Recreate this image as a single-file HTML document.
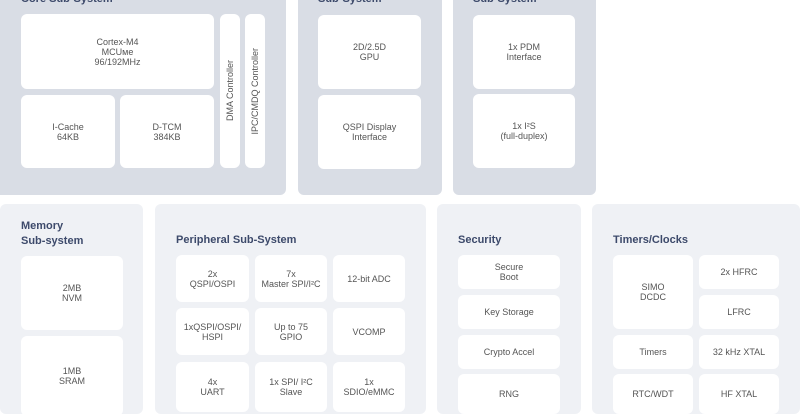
<!DOCTYPE html>
<html><head><style>
body{margin:0;width:800px;height:400px;overflow:hidden;background:#fff;position:relative;font-family:"Liberation Sans",sans-serif}
.p{position:absolute;border-radius:6px}
.t{background:#d9dde5}
.b{background:#eff1f5}
.x{position:absolute;background:#fff;border-radius:6px;display:flex;align-items:center;justify-content:center;text-align:center;font-size:9px;line-height:10px;color:#555}
.h{position:absolute;font-size:11px;font-weight:bold;color:#3d4a6b;line-height:15px}
.v{writing-mode:vertical-rl;transform:rotate(180deg)}
</style></head><body>
<div class="p t" style="left:-6px;top:-10px;width:292px;height:205px"></div>
<div class="p t" style="left:298px;top:-10px;width:144px;height:205px"></div>
<div class="p t" style="left:453px;top:-10px;width:143px;height:205px"></div>
<div class="h" style="left:21px;top:-8px">Core Sub-System</div>
<div class="h" style="left:318px;top:-8px">Sub-System</div>
<div class="h" style="left:473px;top:-8px">Sub-System</div>
<div class="x" style="left:21px;top:14px;width:193px;height:75px">Cortex-M4<br>MCUме<br>96/192MHz</div>
<div class="x" style="left:21px;top:95px;width:94px;height:73px">I-Cache<br>64KB</div>
<div class="x" style="left:120px;top:95px;width:94px;height:73px">D-TCM<br>384KB</div>
<div class="x" style="left:220px;top:14px;width:20px;height:154px"><span class="v">DMA Controller</span></div>
<div class="x" style="left:245px;top:14px;width:20px;height:154px"><span class="v">IPC/CMDQ Controller</span></div>
<div class="x" style="left:318px;top:15px;width:103px;height:74px">2D/2.5D<br>GPU</div>
<div class="x" style="left:318px;top:95px;width:103px;height:74px">QSPI Display<br>Interface</div>
<div class="x" style="left:473px;top:15px;width:102px;height:74px">1x PDM<br>Interface</div>
<div class="x" style="left:473px;top:94px;width:102px;height:74px">1x I²S<br>(full-duplex)</div>

<div class="p b" style="left:0;top:204px;width:143px;height:210px"></div>
<div class="p b" style="left:155px;top:204px;width:271px;height:210px"></div>
<div class="p b" style="left:437px;top:204px;width:144px;height:210px"></div>
<div class="p b" style="left:592px;top:204px;width:208px;height:210px"></div>
<div class="h" style="left:21px;top:219px">Memory<br>Sub-system</div>
<div class="h" style="left:176px;top:233px">Peripheral Sub-System</div>
<div class="h" style="left:458px;top:233px">Security</div>
<div class="h" style="left:613px;top:233px">Timers/Clocks</div>
<div class="x" style="left:21px;top:256px;width:102px;height:74px">2MB<br>NVM</div>
<div class="x" style="left:21px;top:336px;width:102px;height:80px">1MB<br>SRAM</div>
<div class="x" style="left:176px;top:255px;width:73px;height:47px">2x<br>QSPI/OSPI</div>
<div class="x" style="left:255px;top:255px;width:72px;height:47px">7x<br>Master SPI/I²C</div>
<div class="x" style="left:333px;top:255px;width:72px;height:47px">12-bit ADC</div>
<div class="x" style="left:176px;top:308px;width:73px;height:47px">1xQSPI/OSPI/<br>HSPI</div>
<div class="x" style="left:255px;top:308px;width:72px;height:47px">Up to 75<br>GPIO</div>
<div class="x" style="left:333px;top:308px;width:72px;height:47px">VCOMP</div>
<div class="x" style="left:176px;top:362px;width:73px;height:50px">4x<br>UART</div>
<div class="x" style="left:255px;top:362px;width:72px;height:50px">1x SPI/ I²C<br>Slave</div>
<div class="x" style="left:333px;top:362px;width:72px;height:50px">1x<br>SDIO/eMMC</div>
<div class="x" style="left:458px;top:255px;width:102px;height:34px">Secure<br>Boot</div>
<div class="x" style="left:458px;top:295px;width:102px;height:34px">Key Storage</div>
<div class="x" style="left:458px;top:335px;width:102px;height:34px">Crypto Accel</div>
<div class="x" style="left:458px;top:374px;width:102px;height:40px">RNG</div>
<div class="x" style="left:613px;top:255px;width:80px;height:74px">SIMO<br>DCDC</div>
<div class="x" style="left:699px;top:255px;width:80px;height:34px">2x HFRC</div>
<div class="x" style="left:699px;top:295px;width:80px;height:34px">LFRC</div>
<div class="x" style="left:613px;top:335px;width:80px;height:34px">Timers</div>
<div class="x" style="left:699px;top:335px;width:80px;height:34px">32 kHz XTAL</div>
<div class="x" style="left:613px;top:374px;width:80px;height:40px">RTC/WDT</div>
<div class="x" style="left:699px;top:374px;width:80px;height:40px">HF XTAL</div>
</body></html>
